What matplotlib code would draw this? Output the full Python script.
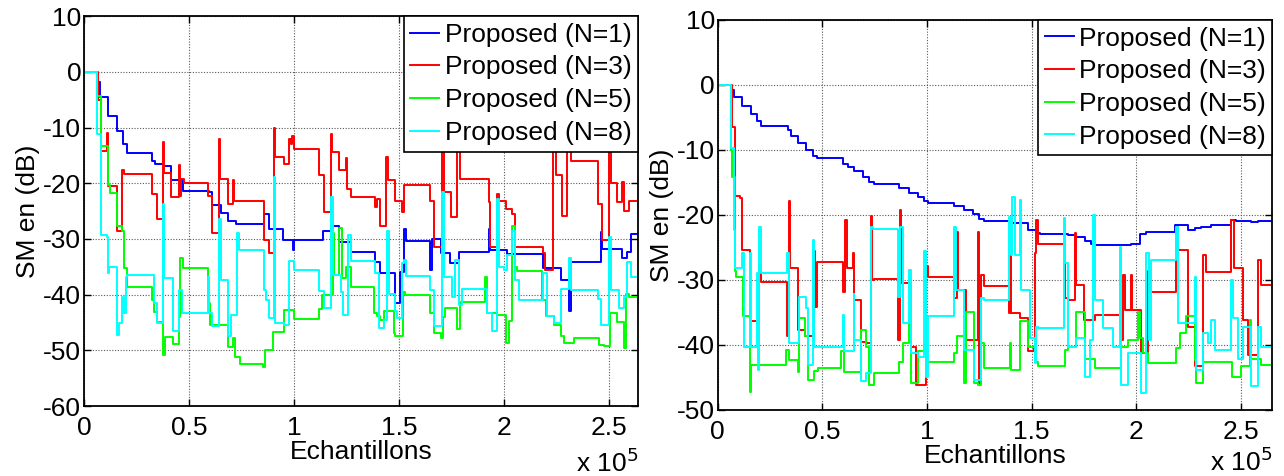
import numpy as np
import matplotlib
matplotlib.use('Agg')
import matplotlib.pyplot as plt
from matplotlib.ticker import FuncFormatter, MultipleLocator

plt.rcParams['font.family'] = ['Liberation Sans', 'DejaVu Sans']
plt.rcParams['axes.unicode_minus'] = False

labels = ['Proposed (N=1)', 'Proposed (N=3)', 'Proposed (N=5)', 'Proposed (N=8)']
colors = ['#0000ff', '#ff0000', '#00ff00', '#00ffff']

# ---- left panel (x in thousands of samples, y in dB) ----
l_n1_x = [0, 6.4, 7.6, 11.4, 15.6, 18.8, 20.7, 32.6, 34.0, 37.8, 41.7, 47.2, 59.6, 61.2, 65.2,
          68.7, 72.3, 85.8, 88.2, 95.0, 99.4, 100.0, 113.7, 117.7, 121.6, 127.2,
          138.9, 140.9, 148.4, 150.8, 152.4, 153.6, 165.1, 165.9, 169.9, 174.6, 178.6, 192.9,
          193.7, 201.7, 218.8, 227.1, 231.1, 231.9, 246.2, 247.0, 256.5, 258.9, 260.5, 264]
l_n1_y = [0, -1.8, -4.5, -7.9, -10.7, -13.0, -14.6, -16.0, -16.6, -16.9, -19.5, -21.4, -21.6, -23.9, -25.3,
          -26.8, -27.3, -25.6, -28.2, -30.1, -32.0, -30.1, -28.6, -27.6, -30.5, -32.3,
          -34.1, -36.2, -41.5, -36.0, -28.3, -30.4, -35.6, -30.0, -32.5, -34.4, -32.3, -28.2,
          -31.9, -32.7, -35.3, -37.4, -43.0, -34.1, -28.8, -31.8, -33.5, -32.4, -29.2, -29.2]

l_n3_x = [0, 6.7, 8.0, 11.1, 11.6, 15.6, 18.3, 19.1, 32.6, 34.7, 37.8, 38.2, 41.7, 45.3, 45.8,
          46.4, 47.7, 59.1, 61.2, 64.4, 64.9, 68.4, 71.2, 71.6, 85.9, 88.2, 90.6, 91.2, 95.1,
          97.8, 98.5, 99.0, 100.2, 112.1, 114.2, 117.7, 118.2, 121.6, 124.8, 125.3, 127.2,
          138.9, 139.6, 140.9, 144.1, 144.7, 148.4, 151.6, 152.4, 165.1, 167.0, 170.7, 171.5,
          175.0, 177.8, 179.4, 192.9, 193.7, 196.6, 197.7, 200.9, 204.0, 205.6, 218.8, 219.9,
          223.6, 224.7, 227.9, 230.3, 231.9, 244.9, 247.0, 250.2, 251.3, 254.1, 256.5, 257.3,
          259.7, 264]
l_n3_y = [0, -5.1, -14.2, -10.9, -20.5, -28.5, -17.7, -18.3, -21.9, -26.4, -12.6, -18.2, -22.4, -16.8, -22.2,
          -19.2, -20.0, -22.2, -29.0, -12.0, -19.2, -23.8, -19.5, -23.2, -30.2, -32.6, -10.1, -15.2, -16.5,
          -12.1, -13.0, -11.5, -13.8, -18.6, -25.1, -11.1, -14.3, -17.7, -15.5, -21.0, -22.5,
          -24.3, -22.8, -27.7, -15.2, -19.4, -23.1, -25.2, -20.4, -23.1, -31.4, -11.0, -21.5,
          -26.0, -12.0, -19.2, -23.4, -31.4, -22.0, -23.1, -24.6, -25.5, -31.4, -32.6, -35.6,
          -12.0, -18.6, -25.8, -12.5, -16.0, -23.7, -30.2, -13.0, -20.0, -23.4, -19.8, -24.9,
          -23.1, -23.1]

l_n5_x = [0, 6.4, 8.0, 11.4, 12.4, 15.6, 18.3, 19.1, 20.7, 32.6, 33.4, 34.7, 37.8, 38.6, 42.6,
          45.3, 45.8, 47.1, 59.3, 60.0, 68.8, 71.0, 72.0, 74.4, 85.5, 86.3, 90.3, 95.1, 99.9,
          112.1, 113.5, 118.5, 119.0, 121.6, 123.0, 124.8, 127.2,
          138.4, 139.7, 140.9, 142.8, 147.6, 148.4, 152.0, 153.2, 165.1, 166.7, 169.9, 171.2,
          172.2, 177.8, 179.4, 191.3, 192.1, 196.9, 200.9, 202.5, 204.0, 205.2, 206.1, 218.4,
          220.0, 223.9, 227.1, 228.7, 233.5, 245.4, 247.8, 250.6, 254.1, 257.3, 258.1, 259.7, 264]
l_n5_y = [0, -4.3, -13.3, -20.4, -21.8, -27.6, -28.5, -35.3, -38.6, -41.0, -43.1, -44.9, -50.9, -47.6, -48.8,
          -44.0, -33.5, -35.3, -41.5, -45.5, -49.4, -47.8, -51.2, -52.4, -53.0, -50.0, -46.7, -42.8, -44.3,
          -42.5, -40.0, -29.0, -36.5, -28.0, -37.0, -35.0, -38.6,
          -43.3, -43.9, -44.5, -42.9, -46.8, -47.5, -39.5, -40.0, -43.3, -46.9, -47.8, -44.0,
          -42.4, -46.2, -41.4, -36.8, -43.3, -43.6, -48.7, -44.8, -27.6, -35.0, -35.8, -41.0,
          -43.9, -45.4, -47.5, -48.7, -47.8, -49.0, -49.3, -43.3, -45.0, -49.6, -39.8, -40.5, -40.5]

l_n8_x = [0, 6.0, 8.0, 11.1, 11.4, 11.9, 15.6, 16.7, 18.3, 19.1, 19.9, 20.7, 33.4, 34.7, 37.8,
          38.3, 42.6, 45.3, 46.9, 59.1, 59.6, 61.2, 64.4, 65.2, 68.7, 70.0, 73.1, 73.9, 85.9,
          86.7, 88.2, 90.6, 91.2, 95.4, 97.8, 99.9, 112.1, 114.2, 117.7, 118.5, 122.4, 123.2,
          125.6, 127.2,
          138.9, 140.4, 142.8, 144.4, 145.2, 148.4, 149.2, 151.6, 152.4, 153.6, 165.1, 167.0,
          170.7, 171.5, 175.4, 177.0, 178.6, 179.9, 192.1, 194.5, 196.6, 197.7, 200.1, 201.7,
          204.0, 205.2, 207.2, 218.8, 220.4, 223.9, 227.1, 231.1, 231.9, 244.9, 246.5, 250.2,
          251.3, 254.9, 257.3, 258.9, 260.5, 264]
l_n8_y = [0, -11.2, -29.3, -29.6, -36.2, -35.0, -47.2, -45.1, -40.4, -43.3, -36.8, -36.4, -41.5, -45.1, -23.7,
          -37.1, -46.6, -39.2, -43.3, -36.8, -43.3, -45.7, -26.4, -37.4, -47.5, -43.6, -29.0, -32.0, -39.2,
          -41.0, -44.2, -18.9, -45.1, -45.4, -33.9, -35.6, -39.3, -42.4, -22.5, -36.5, -39.5, -43.6,
          -29.3, -34.0,
          -36.2, -46.0, -44.5, -28.5, -39.8, -43.0, -44.2, -34.4, -33.8, -36.7, -39.2, -45.7,
          -21.6, -36.8, -40.4, -33.8, -41.8, -38.9, -43.3, -46.6, -22.8, -35.0, -35.6, -32.9,
          -28.5, -37.4, -41.0, -36.2, -43.9, -45.1, -38.9, -33.5, -39.2, -40.8, -45.4, -29.6,
          -39.2, -42.4, -40.4, -34.1, -36.8, -36.8]

# ---- right panel ----
r_n1_x = [0, 6.4, 7.6, 11.5, 15.9, 18.8, 20.7, 33.4, 35.0, 38.2, 42.2, 45.4, 47.4, 59.7, 62.1,
          65.3, 69.3, 72.4, 74.5, 86.8, 91.5, 95.5, 98.7, 100.3, 113.0, 117.8, 121.8, 125.0, 127.4,
          139.5, 148.2, 152.2, 153.8, 167.3, 170.5, 175.3, 178.5, 180.1, 192.8, 197.6, 201.6,
          204.7, 218.3, 224.6, 227.8, 231.0, 235.8, 245.3, 247.7, 254.9, 258.1, 265]
r_n1_y = [0, -0.8, -1.9, -3.2, -4.5, -5.6, -6.3, -6.9, -7.9, -8.9, -10.0, -10.9, -11.3, -12.1, -12.6,
          -13.3, -14.2, -14.9, -15.2, -15.9, -16.6, -17.2, -17.9, -18.1, -18.6, -19.2, -19.8, -20.7, -20.9,
          -21.3, -22.3, -22.8, -22.9, -23.1, -23.4, -24.0, -24.5, -24.7, -24.6, -24.4, -22.9,
          -22.7, -21.6, -22.3, -22.0, -21.8, -21.6, -20.8, -21.0, -21.1, -20.9, -20.9]

r_n3_x = [0, 6.7, 8.0, 8.4, 10.8, 11.5, 15.6, 18.8, 19.9, 20.7, 33.1, 34.2, 34.7, 38.2, 38.5,
          41.7, 46.2, 46.5, 47.4, 59.7, 61.0, 61.6, 64.5, 65.0, 68.5, 70.8, 73.2, 73.5, 74.8,
          86.0, 87.2, 87.6, 92.3, 94.7, 99.5, 100.6, 113.0, 114.3, 114.9, 118.6, 124.2, 125.0,
          125.8, 127.4,
          139.0, 139.5, 140.3, 144.2, 148.2, 150.9, 151.4, 152.2, 153.0, 166.1, 167.3, 170.5,
          171.3, 175.0, 180.1, 192.8, 193.6, 194.4, 197.3, 197.9, 202.3, 205.5, 206.3, 219.1,
          219.9, 224.6, 227.8, 231.8, 233.4, 245.3, 246.6, 250.9, 253.3, 258.1, 259.7, 265]
r_n3_y = [0, -6.5, -8.2, -17.1, -17.4, -25.4, -36.4, -36.7, -27.9, -30.3, -38.7, -17.9, -28.1, -28.4, -37.7,
          -38.7, -25.6, -34.1, -27.2, -31.8, -20.8, -28.2, -25.9, -33.1, -39.5, -39.7, -20.2, -30.0, -29.9,
          -39.2, -19.2, -30.5, -40.3, -46.2, -27.9, -29.5, -32.8, -22.6, -31.5, -39.2, -22.6, -45.9,
          -29.2, -31.0,
          -35.1, -26.4, -35.1, -35.9, -41.0, -40.5, -25.9, -20.8, -24.4, -32.8, -33.1, -22.8,
          -30.8, -36.2, -35.4, -39.2, -29.2, -34.6, -29.2, -34.6, -41.3, -28.7, -31.8, -21.8,
          -25.4, -37.2, -43.3, -26.2, -28.8, -20.8, -28.2, -36.2, -41.5, -26.9, -30.8, -30.8]

r_n5_x = [0, 6.4, 6.7, 8.0, 8.8, 11.9, 15.6, 15.9, 32.6, 34.2, 38.2, 39.0, 41.7, 43.0, 46.2,
          47.8, 58.9, 60.5, 68.5, 70.8, 72.4, 74.8, 86.8, 88.4, 91.5, 92.3, 95.5, 98.7, 100.0,
          113.0, 114.3, 117.8, 118.6, 122.6, 124.2, 125.8, 127.4,
          139.5, 140.3, 144.2, 148.2, 151.4, 153.0, 166.1, 167.3, 171.3, 175.3, 180.1, 192.8,
          196.0, 200.8, 201.6, 203.1, 205.5, 219.1, 220.7, 223.8, 227.8, 228.6, 231.8, 245.6,
          250.1, 254.1, 254.9, 259.7, 265]
r_n5_y = [0, -10.0, -14.1, -28.7, -29.5, -35.6, -47.2, -43.1, -40.8, -42.3, -44.1, -35.9, -38.7, -45.4, -44.0,
          -43.6, -41.0, -44.1, -37.7, -40.3, -46.2, -44.4, -42.6, -39.7, -34.9, -45.9, -41.0, -39.7, -42.6,
          -41.3, -38.7, -45.9, -34.9, -45.9, -46.2, -39.7, -43.6,
          -39.7, -43.8, -36.4, -40.3, -42.6, -43.2, -40.8, -40.3, -34.9, -42.1, -43.6, -40.3,
          -39.2, -34.9, -39.0, -41.3, -42.8, -40.5, -38.2, -35.6, -42.3, -45.9, -42.6, -44.9,
          -43.3, -36.2, -42.1, -43.1, -43.1]

r_n8_x = [0, 6.4, 7.6, 8.3, 11.5, 12.4, 15.6, 15.9, 18.8, 19.1, 19.9, 20.7, 33.1, 34.2, 39.0,
          42.2, 43.0, 45.4, 46.2, 59.7, 60.5, 64.9, 65.3, 68.5, 70.8, 73.2, 74.0, 86.0, 87.2,
          88.4, 91.5, 92.3, 95.5, 98.7, 99.5, 100.3, 112.7, 113.8, 117.8, 122.6, 125.8, 127.4,
          139.0, 140.3, 140.6, 141.9, 144.2, 145.0, 149.0, 151.4, 152.2, 153.0, 165.4, 166.1,
          167.3, 171.3, 175.3, 177.7, 179.3, 180.1, 184.0, 188.8, 192.0, 192.8, 196.0, 202.0,
          204.7, 205.9, 206.8, 219.1, 219.9, 227.8, 228.6, 231.8, 234.2, 235.8, 237.4, 245.3,
          246.1, 248.5, 250.9, 254.9, 258.1, 259.7, 265]
r_n8_y = [0, -9.7, -22.3, -28.2, -25.9, -40.3, -25.9, -40.3, -29.0, -43.8, -21.8, -29.0, -25.9, -39.7, -32.6,
          -34.4, -43.1, -23.8, -40.3, -35.4, -41.0, -32.1, -39.2, -45.6, -44.4, -21.8, -22.1, -32.6, -21.8,
          -36.7, -28.5, -41.3, -41.8, -25.6, -44.9, -35.6, -21.8, -31.5, -40.8, -45.4, -32.8, -33.1,
          -20.3, -26.2, -17.2, -26.2, -17.7, -31.5, -39.0, -42.8, -37.2, -37.4, -20.5, -27.4,
          -40.3, -39.0, -44.9, -39.2, -20.0, -33.1, -37.4, -40.3, -24.9, -46.2, -41.3, -47.4,
          -25.9, -39.2, -26.9, -21.8, -36.7, -29.5, -43.8, -38.2, -39.7, -36.2, -40.8, -30.0,
          -35.9, -42.1, -37.2, -46.4, -37.2, -40.3, -40.3]

left_series = [(l_n1_x, l_n1_y), (l_n3_x, l_n3_y), (l_n5_x, l_n5_y), (l_n8_x, l_n8_y)]
right_series = [(r_n1_x, r_n1_y), (r_n3_x, r_n3_y), (r_n5_x, r_n5_y), (r_n8_x, r_n8_y)]

FS = 19


def draw(ax, series, xmax, ylim, exp_y):
    for (xs, ys), c, lab in zip(series, colors, labels):
        ax.step(np.array(xs) * 1e3, ys, where='post', color=c, lw=1.4, label=lab)
    ax.set_xlim(0, xmax)
    ax.set_ylim(*ylim)
    ax.xaxis.set_major_locator(MultipleLocator(5e4))
    ax.yaxis.set_major_locator(MultipleLocator(10))
    ax.xaxis.set_major_formatter(FuncFormatter(lambda v, p: f'{v / 1e5:g}'))
    ax.grid(True, color='0.35', linestyle=(0, (1, 1.5)), lw=0.8)
    ax.tick_params(direction='in', top=True, right=True, labelsize=FS, length=5, width=1, pad=2)
    ax.tick_params(axis='x', pad=7)
    for s in ax.spines.values():
        s.set_linewidth(1.3)
    ax.set_xlabel('Echantillons', fontsize=FS, labelpad=0)
    ax.set_ylabel('SM en (dB)', fontsize=FS, labelpad=2)
    ax.text(1.0, exp_y, r'x 10$^5$', transform=ax.transAxes, ha='right', va='baseline', fontsize=FS)
    leg = ax.legend(loc='upper right', fontsize=FS, frameon=True, fancybox=False,
                    edgecolor='k', framealpha=1, borderpad=0.25, labelspacing=0.33,
                    handlelength=1.1, handletextpad=0.2, borderaxespad=0)
    leg.get_frame().set_linewidth(1.2)


fig = plt.figure(figsize=(12.84, 4.76), dpi=100)
ax1 = fig.add_axes([0.0654, 0.147, 0.4315, 0.819])
ax2 = fig.add_axes([0.559, 0.139, 0.432, 0.819])
draw(ax1, left_series, 2.64e5, (-60, 10), -0.168)
draw(ax2, right_series, 2.65e5, (-50, 10), -0.158)

fig.savefig('out.png', dpi=100)
